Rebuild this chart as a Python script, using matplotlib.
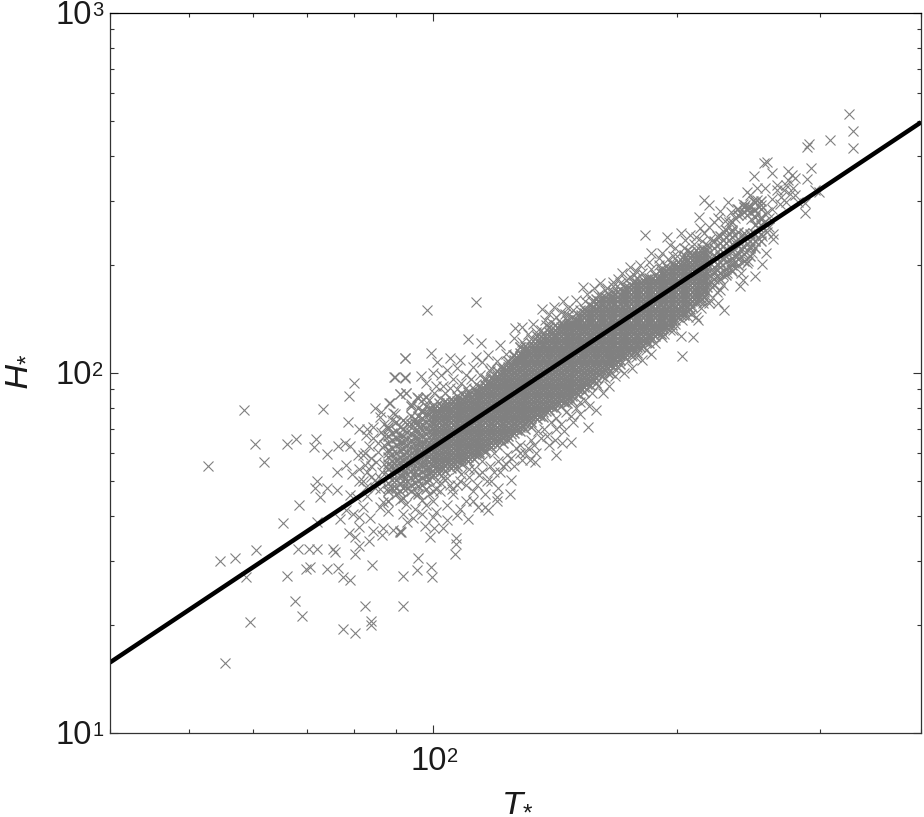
import matplotlib

matplotlib.use("Agg")
import matplotlib.pyplot as plt
from matplotlib import ticker

plt.rcParams["font.family"] = ["Liberation Sans", "DejaVu Sans"]
plt.rcParams["mathtext.fontset"] = "custom"
plt.rcParams["mathtext.rm"] = "Liberation Sans"
plt.rcParams["mathtext.it"] = "Liberation Sans:italic"

GREY = "#808080"
AXIS_COLOR = "#333333"
TEXT_COLOR = "#1a1a1a"
FIG_W, FIG_H = 924, 817

# Power law fit drawn over the cloud
T_FIT = [40, 400]
H_FIT = [15.7, 497]

X_DECADES = [(100, "2")]
Y_DECADES = [(10, "1"), (100, "2"), (1000, "3")]

# Isolated points on the low T side (T, H)
LOW_TAIL = [
    (52.9, 55.3), (58.6, 78.9), (60.3, 63.4), (61.9, 56.5), (66.2, 63.4), (67.9, 65.6), (71.3, 62.2),
    (71.7, 65.7), (73.3, 79.6), (74.0, 59.6), (78.8, 86.5), (80.0, 93.6), (78.7, 73.2), (76.5, 62.8),
    (77.9, 63.8), (79.0, 62.7), (81.1, 69.8), (68.5, 43.0), (65.3, 38.4), (72.0, 50.2), (71.5, 47.8),
    (72.7, 45.2), (74.0, 47.8), (76.3, 47.3), (76.1, 53.2), (78.2, 55.5), (80.9, 59.2), (54.7, 30.1),
    (57.1, 30.6), (60.6, 32.2), (58.9, 27.2), (66.2, 27.3), (68.3, 32.4), (70.3, 32.4), (72.0, 32.4),
    (75.3, 32.4), (75.7, 31.9), (69.7, 28.6), (70.5, 29.0), (74.0, 28.6), (76.4, 28.7), (77.5, 27.1),
    (79.1, 26.6), (80.1, 31.4), (67.6, 23.2), (69.0, 21.2), (59.5, 20.3), (55.4, 15.6), (77.5, 19.5),
    (80.3, 19.0), (84.0, 20.5), (83.9, 20.0), (82.4, 22.5), (91.9, 22.5), (84.2, 29.2), (72.0, 38.6),
    (76.9, 39.2), (78.8, 35.9), (80.3, 35.0), (81.2, 33.1), (83.4, 34.1), (81.2, 37.4), (84.4, 36.5),
    (86.7, 35.5), (86.9, 37.0), (89.4, 36.6), (91.5, 36.2), (91.2, 36.5),
]

# Points around the shoulder of the cloud, T below 100
SHOULDER = [
    (92.3, 110), (89.7, 97.6), (92.3, 97.0), (91.0, 87.3), (92.6, 88.2), (88.3, 82.4), (84.8, 80.1),
    (86.0, 75.6), (89.8, 76.9), (84.4, 70.6), (86.4, 68.7), (82.8, 67.3), (84.4, 65.9), (82.0, 59.2),
    (82.4, 55.5), (85.2, 56.7), (88.1, 59.8), (79.0, 45.8), (80.5, 45.3), (82.8, 48.3), (86.9, 43.9),
    (86.0, 42.5), (82.0, 42.5), (83.6, 39.5), (81.2, 39.9), (79.8, 40.7), (78.2, 41.6), (91.0, 44.4),
    (92.8, 43.4), (91.9, 40.7), (93.0, 38.6), (85.0, 50.5), (86.5, 53.0), (84.0, 51.5), (85.5, 60.5),
    (87.0, 63.0), (83.5, 62.5), (86.0, 47.5), (88.0, 41.5), (81.0, 50.0), (79.5, 52.5), (83.0, 45.5),
    (82, 50), (83, 53), (84, 55), (85, 48), (86, 51), (87, 56), (88, 48), (81, 54), (82.5, 60), (84, 58),
    (85.5, 64), (87, 67), (88, 70), (83, 70), (89, 74), (87, 72),
]
SHOULDER_COLUMNS = {
    88: [44, 47, 49.5, 52, 54, 56, 58.5, 61, 64, 67, 71],
    89: [48, 50.5, 53, 55, 57, 59.5, 62, 65, 68],
    90: [46, 48, 50.5, 53, 55.5, 57.5, 60, 63, 66, 69, 73],
    91: [47, 49.5, 52, 54, 56.5, 58.5, 61, 64, 67, 71],
    92: [45, 48, 50, 52, 54.5, 57, 59, 61.5, 64, 67, 70, 74],
    93: [48, 50, 52.5, 54.5, 56.5, 58.5, 60.5, 63, 65.5, 68.5, 72],
    94: [47, 49, 51, 53.5, 55.5, 58, 60, 62.5, 65, 68, 72, 76, 81],
    95: [49.5, 51.5, 53, 55, 57, 59, 61, 63, 66, 69, 72.5, 74.5],
    96: [46, 48.5, 50.5, 52.5, 54.5, 57, 59, 61, 63.5, 66, 69, 72, 76, 80, 85],
    97: [49, 51, 53, 55, 56.5, 58.5, 60.5, 62.5, 64.5, 67, 69.5, 72, 75, 78],
    98: [47.5, 50, 52, 54, 56, 58, 60, 62.5, 65, 67.5, 70, 73, 77, 81, 86],
    99: [50.5, 52.5, 54.5, 56.5, 58.5, 60.5, 62.5, 64.5, 66.5, 69, 71.5, 74, 77, 80],
}

# Outer edge of the cloud above the core
UPPER_FRINGE = [
    (98.3, 149.6), (113, 157), (126.4, 133.7), (110.5, 124), (114.8, 120.8), (121, 119.6), (92.4, 110),
    (99.6, 113.4), (101.2, 107.5), (89.8, 97.6), (92.4, 97.3), (96.6, 98.3), (105, 110.4), (108, 108.7),
    (113.2, 110.9), (100.1, 99.8), (102.5, 98.6), (98.2, 93.6), (91, 87.3), (92.8, 88.2), (88.5, 82.4),
    (97.3, 84.9), (86.4, 78), (89.4, 77.3), (129, 134), (136.2, 151), (137.5, 140), (144.8, 158.6),
    (145.6, 146), (153, 173.6), (155, 166), (166.8, 179), (171, 189), (175, 185), (103, 92), (106, 96),
    (104, 102), (107, 103), (110, 99), (112, 104), (115, 107), (117, 112), (118, 103), (120, 108),
    (123, 113), (126, 125), (128, 118), (131, 128), (133, 137), (139, 146), (141, 153), (147, 152),
    (150, 160), (158, 172), (161, 178), (163, 170), (169, 183), (178, 192), (182.6, 241.6), (175, 197),
    (180, 199), (185, 204), (185.8, 215), (190, 209), (194.4, 239), (196, 227), (202.5, 245), (204.6, 234),
    (207.6, 241.6), (213.6, 252), (212.9, 272), (216.3, 302), (219, 293), (226, 281), (231.5, 299),
    (192, 215), (199, 222), (198, 212), (204, 222), (210, 228), (211, 238), (216, 245), (219, 255),
    (222, 262), (225, 270), (229, 265), (233, 280), (228, 248), (224, 240), (220, 235), (215, 232),
]
UPPER_EDGE = [
    (94, 82), (95.5, 86), (97, 79), (99, 84), (100.5, 88), (102, 85), (103.5, 88), (105, 91), (101, 92),
    (107, 90), (108.5, 94), (110, 91), (111.5, 96), (113, 93), (114.5, 99), (116, 97), (117.5, 101),
    (119, 99), (121, 104), (122.5, 101), (124, 106), (125.5, 112), (127, 110), (129, 122), (130.5, 116),
    (132, 124), (134, 130), (136, 132), (138, 136), (140, 139), (142, 143), (144, 148), (147, 145),
    (149, 150), (152, 150), (154, 158), (157, 158), (160, 165), (164, 172), (167, 174), (170, 178),
    (173, 181), (177, 187), (181, 190), (186, 195), (190, 200), (195, 207), (200, 212), (206, 220),
]

# Outer edge of the cloud below the core
LOWER_FRINGE = [
    (155.2, 70.9), (141.8, 59.2), (148, 64.4), (144.2, 63.8), (141.4, 65), (131.7, 57.3), (129, 57.5),
    (133.7, 56.7), (125, 50.4), (120.5, 47.8), (124.5, 46.2), (117, 41.7), (113.7, 42.4), (119.9, 45.3),
    (110.6, 39.2), (107.2, 40.3), (100, 39.9), (103, 37.2), (100.3, 37), (97.8, 37.6), (94.6, 39.5),
    (91, 36.2), (106.8, 34.7), (99.2, 35.1), (99.4, 28.9), (99.7, 27.1), (95.6, 28.4), (92, 27.3),
    (95.8, 30.6), (106.8, 33.5), (106.4, 31.4), (100, 44), (102, 47), (104, 43), (106, 46), (108, 50),
    (101, 50), (105, 49), (110, 44), (112, 47), (114, 52), (116, 46), (118, 50), (121, 53), (123, 56),
    (126, 55), (128, 60), (131, 62), (134, 60), (136, 66), (139, 63), (142, 70), (145, 69), (149, 73),
    (152, 77), (156, 81), (159, 79), (162, 88), (165, 92), (168, 98), (172, 100), (176, 103), (181, 109),
    (186, 113), (192, 126), (196, 131.6), (199, 137), (202.6, 127), (203, 111.6), (209.6, 126), (206.5, 143),
    (211, 143), (212.6, 140), (215.5, 156), (219, 156), (225, 156), (228.5, 149.6), (226, 170), (230.6, 189),
    (235, 202), (100, 47), (98, 43), (103, 51), (107, 54), (111, 54), (115, 57), (119, 60),
]
LOWER_EDGE = [
    (95, 46), (97, 44.5), (99, 46), (101, 47.5), (102.5, 49.5), (104, 51), (105.5, 47.5), (107, 49),
    (108.5, 52.5), (110, 49), (111, 51.5), (112.5, 54), (113.5, 49), (115, 53), (116.5, 50), (117.5, 55),
    (119, 53), (120.5, 57), (122, 55), (123.5, 59), (125, 58), (126.5, 62), (128, 63), (130, 60), (132, 65),
    (133.5, 63), (135, 69), (137, 70), (138.5, 67), (140, 73), (142, 75), (144, 72), (146, 78), (148, 76),
    (150, 80), (152, 83), (154, 84), (157, 88), (160, 92), (163, 97), (166, 100), (169, 103), (174, 108),
    (178, 111), (183, 116), (188, 121), (193, 128), (198, 132), (203, 140), (208, 146), (214, 152),
    (220, 160), (224, 168), (228, 176), (104, 39), (108, 42), (112, 44), (116, 42.5), (120, 44), (101, 41),
    (97, 40.5), (95, 42),
]

# Sparse end of the cloud at high T
HIGH_TAIL = [
    (326, 524), (330, 471), (330, 421), (309, 444), (291, 432), (289, 424), (293, 370), (289, 345),
    (296, 322), (299.5, 319), (288, 279), (288, 296), (282, 299), (256, 384), (258, 386), (262, 359),
    (249, 353), (274, 364), (277, 355), (274.5, 344), (280, 347), (265.5, 333), (257, 326), (244, 319),
    (251, 326), (246, 312), (273, 333), (278, 326), (276, 315), (271, 322), (280, 312), (273, 299),
    (268.5, 309), (266, 322), (262, 304), (239.3, 175), (241.3, 181), (240, 190), (249.6, 186), (255, 201),
    (257.7, 216), (247.6, 215), (244, 202), (263, 235), (263, 244), (258, 247), (251, 302), (254, 293),
    (249, 284), (245, 290), (240, 276), (236, 270), (243, 292), (238, 285), (234, 246), (242, 240),
    (248, 245), (252, 255), (256, 262), (260, 270), (258, 280), (254, 272), (247, 268), (244, 275),
    (250, 232), (246, 226), (240, 222), (236, 230), (232, 218), (237, 212), (228, 210), (233, 203),
    (225, 200), (222, 192), (228, 187), (233, 195), (219, 178), (224, 182), (216, 170), (245, 205),
    (255, 240), (260, 255), (262, 285), (268, 295), (248, 300), (241, 295), (237, 285), (232, 262),
]

# Solid middle of the cloud, H values listed per T column
CORE_LOW = {
    100: [52, 53.6, 55.2, 56.9, 58.6, 60.4, 62.2, 64.1, 66, 68, 70, 72.1, 74.3, 76.5, 78.8, 81.2],
    100.8: [54.8, 56.5, 58.2, 60, 61.8, 63.6, 65.5, 67.5, 69.5, 71.6, 73.8, 76, 78.3],
    101.7: [52.8, 54.4, 56, 57.7, 59.5, 61.3, 63.1, 65, 67, 69, 71, 73.2, 75.4, 77.7, 80, 82.4],
    102.6: [54.8, 56.5, 58.2, 60, 61.8, 63.6, 65.5, 67.5, 69.5, 71.6, 73.8, 76, 78.3, 80.6],
    103.5: [53.6, 55.2, 56.9, 58.6, 60.4, 62.2, 64.1, 66, 68, 70, 72.1, 74.3, 76.5, 78.8, 81.2, 83.6],
    104.3: [56.5, 58.2, 60, 61.8, 63.6, 65.5, 67.5, 69.5, 71.6, 73.8, 76, 78.3, 80.6],
    105.2: [54.4, 56, 57.7, 59.5, 61.3, 63.1, 65, 67, 69, 71, 73.2, 75.4, 77.7, 80, 82.4, 84.8],
    106: [56.5, 58.2, 60, 61.8, 63.6, 65.5, 67.5, 69.5, 71.6, 73.8, 76, 78.3, 80.6, 83],
    107: [55.2, 56.9, 58.6, 60.4, 62.2, 64.1, 66, 68, 70, 72.1, 74.3, 76.5, 78.8, 81.2, 83.6, 86.1],
    107.9: [58.2, 60, 61.8, 63.6, 65.5, 67.5, 69.5, 71.6, 73.8, 76, 78.3, 80.6, 83],
    108.8: [56, 57.7, 59.5, 61.3, 63.1, 65, 67, 69, 71, 73.2, 75.4, 77.7, 80, 82.4, 84.8, 87.4],
    109.6: [58.2, 60, 61.8, 63.6, 65.5, 67.5, 69.5, 71.6, 73.8, 76, 78.3, 80.6, 83, 85.5],
    110.5: [56.9, 58.6, 60.4, 62.2, 64.1, 66, 68, 70, 72.1, 74.3, 76.5, 78.8, 81.2, 83.6, 86.1, 88.7],
    111.4: [60, 61.8, 63.6, 65.5, 67.5, 69.5, 71.6, 73.8, 76, 78.3, 80.6, 83, 85.5],
    112.3: [57.7, 59.5, 61.3, 63.1, 65, 67, 69, 71, 73.2, 75.4, 77.7, 80, 82.4, 84.8, 87.4, 90],
    113.2: [60, 61.8, 63.6, 65.5, 67.5, 69.5, 71.6, 73.8, 76, 78.3, 80.6, 83, 85.5, 88],
    114: [59.7, 60.4, 62.2, 64.1, 66, 68, 70, 72.1, 74.3, 76.5, 78.8, 81.2, 83.6, 86.1, 88.7, 91.4],
    115: [61.8, 63.6, 65.5, 67.5, 69.5, 71.6, 73.8, 76, 78.3, 80.6, 83, 85.5, 88, 90.7],
    116: [60.5, 61.3, 63.1, 65, 67, 69, 71, 73.2, 75.4, 77.7, 80, 82.4, 84.8, 87.4, 90, 92.7, 95.5],
    117: [63.6, 65.5, 67.5, 69.5, 71.6, 73.8, 76, 78.3, 80.6, 83, 85.5, 88, 90.7, 93.4],
    118: [62.2, 64.1, 66, 68, 70, 72.1, 74.3, 76.5, 78.8, 81.2, 83.6, 86.1, 88.7, 91.4, 94.1, 97],
    119: [65.5, 67.5, 69.5, 71.6, 73.8, 76, 78.3, 80.6, 83, 85.5, 88, 90.7, 93.4, 96.2],
    120: [63.1, 65, 67, 69, 71, 73.2, 75.4, 77.7, 80, 82.4, 84.8, 87.4, 90, 92.7, 95.5, 98.4, 101],
    121: [65.5, 67.5, 69.5, 71.6, 73.8, 76, 78.3, 80.6, 83, 85.5, 88, 90.7, 93.4, 96.2, 99.2],
}
CORE_MID = {
    122: [64.1, 66, 68, 70, 72.1, 74.3, 76.5, 78.8, 81.2, 83.6, 86.1, 88.7, 91.4, 94.1, 97, 100, 103],
    123: [67.5, 69.5, 71.6, 73.8, 76, 78.3, 80.6, 83, 85.5, 88, 90.7, 93.4, 96.2, 99.2, 102],
    124: [65, 67, 69, 71, 73.2, 75.4, 77.7, 80, 82.4, 84.8, 87.4, 90, 92.7, 95.5, 98.4, 101, 104, 108],
    125: [67.5, 69.5, 71.6, 73.8, 76, 78.3, 80.6, 83, 85.5, 88, 90.7, 93.4, 96.2, 99.2, 102, 105],
    126: [68, 70, 72.1, 74.3, 76.5, 78.8, 81.2, 83.6, 86.1, 88.7, 91.4, 94.1, 97, 100, 103, 106, 109, 112],
    127: [69.5, 71.6, 73.8, 76, 78.3, 80.6, 83, 85.5, 88, 90.7, 93.4, 96.2, 99.2, 102, 105, 108],
    128: [69, 71, 73.2, 75.4, 77.7, 80, 82.4, 84.8, 87.4, 90, 92.7, 95.5, 98.4, 101, 104, 108, 111, 114, 118],
    129: [71.6, 73.8, 76, 78.3, 80.6, 83, 85.5, 88, 90.7, 93.4, 96.2, 99.2, 102, 105, 108, 112],
    130: [70, 72.1, 74.3, 76.5, 78.8, 81.2, 83.6, 86.1, 88.7, 91.4, 94.1, 97, 100, 103, 106, 109, 112, 116, 119],
    131: [73.8, 76, 78.3, 80.6, 83, 85.5, 88, 90.7, 93.4, 96.2, 99.2, 102, 105, 108, 112, 115],
    132.2: [71, 73.2, 75.4, 77.7, 80, 82.4, 84.8, 87.4, 90, 92.7, 95.5, 98.4, 101, 104, 108, 111, 114, 118, 121],
    133.3: [76, 78.3, 80.6, 83, 85.5, 88, 90.7, 93.4, 96.2, 99.2, 102, 105, 108, 112, 115, 118],
    134.4: [74.3, 76.5, 78.8, 81.2, 83.6, 86.1, 88.7, 91.4, 94.1, 97, 100, 103, 106, 109, 112, 116, 119, 123, 127],
    135.5: [76, 78.3, 80.6, 83, 85.5, 88, 90.7, 93.4, 96.2, 99.2, 102, 105, 108, 112, 115, 118, 122],
    136.6: [75.4, 77.7, 80, 82.4, 84.8, 87.4, 90, 92.7, 95.5, 98.4, 101, 104, 108, 111, 114, 118, 121, 125, 128],
    137.8: [78.3, 80.6, 83, 85.5, 88, 90.7, 93.4, 96.2, 99.2, 102, 105, 108, 112, 115, 118, 122, 125],
    139: [78.8, 81.2, 83.6, 86.1, 88.7, 91.4, 94.1, 97, 100, 103, 106, 109, 112, 116, 119, 123, 127, 130, 134],
    140.2: [80.6, 83, 85.5, 88, 90.7, 93.4, 96.2, 99.2, 102, 105, 108, 112, 115, 118, 122, 125, 129],
    141.4: [80, 82.4, 84.8, 87.4, 90, 92.7, 95.5, 98.4, 101, 104, 108, 111, 114, 118, 121, 125, 128, 132, 136],
    142.6: [83, 85.5, 88, 90.7, 93.4, 96.2, 99.2, 102, 105, 108, 112, 115, 118, 122, 125, 129, 133],
    143.8: [81.2, 83.6, 86.1, 88.7, 91.4, 94.1, 97, 100, 103, 106, 109, 112, 116, 119, 123, 127, 130, 134, 138],
    145: [83, 85.5, 88, 90.7, 93.4, 96.2, 99.2, 102, 105, 108, 112, 115, 118, 122, 125, 129, 133, 136],
    146.2: [82.4, 84.8, 87.4, 90, 92.7, 95.5, 98.4, 101, 104, 108, 111, 114, 118, 121, 125, 128, 132, 136, 140],
    147.4: [85.5, 88, 90.7, 93.4, 96.2, 99.2, 102, 105, 108, 112, 115, 118, 122, 125, 129, 133, 136],
    148.7: [83.6, 86.1, 88.7, 91.4, 94.1, 97, 100, 103, 106, 109, 112, 116, 119, 123, 127, 130, 134, 138, 143],
    150: [88, 90.7, 93.4, 96.2, 99.2, 102, 105, 108, 112, 115, 118, 122, 125, 129, 133, 136, 140],
    151.2: [87.4, 90, 92.7, 95.5, 98.4, 101, 104, 108, 111, 114, 118, 121, 125, 128, 132, 136, 140, 145],
    152.4: [90.7, 93.4, 96.2, 99.2, 102, 105, 108, 112, 115, 118, 122, 125, 129, 133, 136, 140, 145],
    153.7: [88.7, 91.4, 94.1, 97, 100, 103, 106, 109, 112, 116, 119, 123, 127, 130, 134, 138, 143, 147, 151],
    155: [93.4, 96.2, 99.2, 102, 105, 108, 112, 115, 118, 122, 125, 129, 133, 136, 140, 145, 149],
    156.3: [92.7, 95.5, 98.4, 101, 104, 108, 111, 114, 118, 121, 125, 128, 132, 136, 140, 145, 149, 154],
    157.6: [96.2, 99.2, 102, 105, 108, 112, 115, 118, 122, 125, 129, 133, 136, 140, 145, 149, 153],
    159: [94.1, 97, 100, 103, 106, 109, 112, 116, 119, 123, 127, 130, 134, 138, 143, 147, 151, 156, 161],
    160.3: [99.2, 102, 105, 108, 112, 115, 118, 122, 125, 129, 133, 136, 140, 145, 149, 153, 158],
}
CORE_HIGH = {
    161.7: [98.4, 101, 104, 108, 111, 114, 118, 121, 125, 128, 132, 136, 140, 145, 149, 154, 158, 163],
    163: [102, 105, 108, 112, 115, 118, 122, 125, 129, 133, 136, 140, 145, 149, 153, 158, 163],
    164.4: [100, 103, 106, 109, 112, 116, 119, 123, 127, 130, 134, 138, 143, 147, 151, 156, 161, 166],
    165.7: [105, 108, 112, 115, 118, 122, 125, 129, 133, 136, 140, 145, 149, 153, 158, 163],
    167: [104, 108, 111, 114, 118, 121, 125, 128, 132, 136, 140, 145, 149, 154, 158, 163, 168],
    168.5: [108, 112, 115, 118, 122, 125, 129, 133, 136, 140, 145, 149, 153, 158, 163, 168],
    170: [106, 109, 112, 116, 119, 123, 127, 130, 134, 138, 143, 147, 151, 156, 161, 166, 171],
    171.4: [112, 115, 118, 122, 125, 129, 133, 136, 140, 145, 149, 153, 158, 163, 168],
    172.8: [111, 114, 118, 121, 125, 128, 132, 136, 140, 145, 149, 154, 158, 163, 168, 173],
    174.2: [115, 118, 122, 125, 129, 133, 136, 140, 145, 149, 153, 158, 163, 168, 173],
    175.7: [112, 116, 119, 123, 127, 130, 134, 138, 143, 147, 151, 156, 161, 166, 171, 176],
    177.2: [115, 118, 122, 125, 129, 133, 136, 140, 145, 149, 153, 158, 163, 168, 173, 178],
    178.7: [114, 118, 121, 125, 128, 132, 136, 140, 145, 149, 154, 158, 163, 168, 173, 178, 184],
    180.2: [118, 122, 125, 129, 133, 136, 140, 145, 149, 153, 158, 163, 168, 173, 178],
    181.7: [119, 123, 127, 130, 134, 138, 143, 147, 151, 156, 161, 166, 171, 176, 181],
    183.2: [122, 125, 129, 133, 136, 140, 145, 149, 153, 158, 163, 168, 173, 178, 183],
    184.8: [121, 125, 128, 132, 136, 140, 145, 149, 154, 158, 163, 168, 173, 178, 184],
    186.4: [125, 129, 133, 136, 140, 145, 149, 153, 158, 163, 168, 173, 178, 183],
    188: [127, 130, 134, 138, 143, 147, 151, 156, 161, 166, 171, 176, 181, 187],
    189.5: [129, 133, 136, 140, 145, 149, 153, 158, 163, 168, 173, 178, 183],
    191: [128, 132, 136, 140, 145, 149, 154, 158, 163, 168, 173, 178, 184, 189, 195],
    192.5: [133, 136, 140, 145, 149, 153, 158, 163, 168, 173, 178, 183, 189],
    194: [134, 138, 143, 147, 151, 156, 161, 166, 171, 176, 181, 187, 192, 198],
    195.7: [136, 140, 145, 149, 153, 158, 163, 168, 173, 178, 183, 189, 194],
    197.4: [136, 140, 145, 149, 154, 158, 163, 168, 173, 178, 184, 189, 195, 201],
    199: [140, 145, 149, 153, 158, 163, 168, 173, 178, 183, 189, 194, 200],
    200.8: [143, 147, 151, 156, 161, 166, 171, 176, 181, 187, 192, 198, 204],
    202.4: [145, 149, 153, 158, 163, 168, 173, 178, 183, 189, 194, 200],
    204: [145, 149, 154, 158, 163, 168, 173, 178, 184, 189, 195, 201, 207, 213],
    205.7: [149, 153, 158, 163, 168, 173, 178, 183, 189, 194, 200, 206],
    207.5: [151, 156, 161, 166, 171, 176, 181, 187, 192, 198, 204, 210, 217],
    209: [153, 158, 163, 168, 173, 178, 183, 189, 194, 200, 206, 212],
    211: [158, 163, 168, 173, 178, 184, 189, 195, 201, 207, 213, 220],
    212.8: [158, 163, 168, 173, 178, 183, 189, 194, 200, 206, 212],
    214.6: [161, 166, 171, 176, 181, 187, 192, 198, 204, 210, 217, 223],
    216.3: [163, 168, 173, 178, 183, 189, 194, 200, 206, 212, 218],
    218: [168, 173, 178, 184, 189, 195, 201, 207, 213, 220, 227],
}
CORE_END = {
    222: [176, 183, 190, 197, 205, 213, 222, 232],
    226: [182, 189, 197, 204, 212, 221, 230, 240],
    230: [187, 195, 203, 211, 220, 229, 239, 250],
    234: [192, 200, 209, 218, 228, 238, 250, 262],
    238: [199, 207, 216, 226, 236, 247, 275],
    242: [205, 214, 224, 234, 245, 280, 290],
    246: [212, 222, 232, 243, 280, 290],
    250: [222, 233, 244, 258, 272, 284, 298],
    254: [232, 244, 258, 268, 285, 300],
}


def split_pairs(pairs):
    return [p[0] for p in pairs], [p[1] for p in pairs]


def split_columns(columns):
    xs, ys = [], []
    for t_value, h_values in columns.items():
        xs.extend([t_value] * len(h_values))
        ys.extend(h_values)
    return xs, ys


def decade_label(ax, xy, power, xycoords, base_offset, power_offset):
    # "10" and its exponent as two texts, the exponent is smaller than mathtext would make it
    ax.annotate("10", xy, xycoords=xycoords, xytext=base_offset, textcoords="offset pixels",
                fontsize=23.5, color=TEXT_COLOR, ha="right", va="center")
    ax.annotate(power, xy, xycoords=xycoords, xytext=power_offset, textcoords="offset pixels",
                fontsize=14.5, color=TEXT_COLOR, ha="left", va="center")


fig = plt.figure(figsize=(FIG_W / 100, FIG_H / 100), dpi=100)
ax = fig.add_axes([110 / FIG_W, 1 - 733 / FIG_H, 811 / FIG_W, 720 / FIG_H])

for group in (LOW_TAIL, SHOULDER, UPPER_FRINGE, UPPER_EDGE, LOWER_FRINGE, LOWER_EDGE, HIGH_TAIL):
    xs, ys = split_pairs(group)
    ax.plot(xs, ys, "x", color=GREY, markersize=7.2, markeredgewidth=0.8)
# Slightly heavier strokes so the middle closes up as in the original
for group in (SHOULDER_COLUMNS, CORE_LOW, CORE_MID, CORE_HIGH, CORE_END):
    xs, ys = split_columns(group)
    ax.plot(xs, ys, "x", color=GREY, markersize=7.2, markeredgewidth=1.05)

ax.plot(T_FIT, H_FIT, color="black", linewidth=3.2, solid_capstyle="butt")

ax.set_xscale("log")
ax.set_yscale("log")
ax.set_xlim(40, 400)
ax.set_ylim(10, 1000)

ax.xaxis.set_major_locator(ticker.FixedLocator([d[0] for d in X_DECADES]))
ax.yaxis.set_major_locator(ticker.FixedLocator([d[0] for d in Y_DECADES]))
for axis in (ax.xaxis, ax.yaxis):
    axis.set_major_formatter(ticker.NullFormatter())
    axis.set_minor_locator(ticker.LogLocator(base=10, subs=range(2, 10), numticks=12))
    axis.set_minor_formatter(ticker.NullFormatter())

ax.tick_params(which="major", direction="in", length=6, width=0.8, top=True, right=True, color=AXIS_COLOR)
ax.tick_params(which="minor", direction="in", length=3, width=0.8, top=True, right=True, color=AXIS_COLOR)

for side in ("left", "bottom", "right"):
    ax.spines[side].set_color(AXIS_COLOR)
    ax.spines[side].set_linewidth(0.9)
ax.spines["top"].set_color("black")
ax.spines["top"].set_linewidth(0.9)

for value, power in X_DECADES:
    decade_label(ax, (value, 0), power, ("data", "axes fraction"), (14, -29), (14, -23))
for value, power in Y_DECADES:
    decade_label(ax, (0, value), power, ("axes fraction", "data"), (-18, -3), (-18, 2))

fig.text(517 / FIG_W, 1 - 811 / FIG_H, r"$\mathit{T}_{*}$", fontsize=25, color=TEXT_COLOR, ha="center", va="baseline")
fig.text(25 / FIG_W, 1 - 372 / FIG_H, r"$\mathit{H}_{*}$", fontsize=25, color=TEXT_COLOR,
         rotation=90, rotation_mode="anchor", ha="center", va="baseline")

fig.savefig("out.png", dpi=100)
